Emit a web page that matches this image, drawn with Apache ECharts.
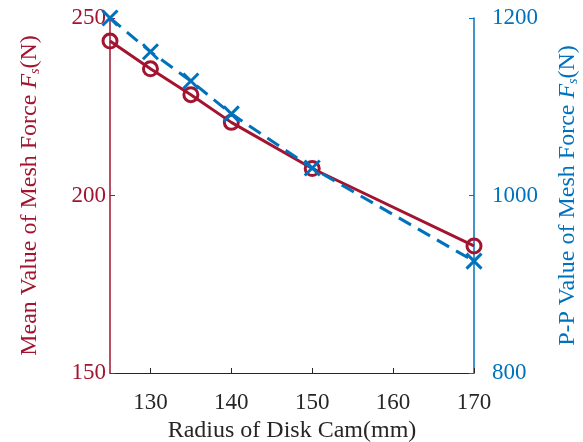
<!DOCTYPE html>
<html><head><meta charset="utf-8">
<script src="https://cdn.jsdelivr.net/npm/echarts@6/dist/echarts.min.js"></script>
<style>html,body{margin:0;padding:0;background:#fff}#c{width:583px;height:442px}</style>
</head><body><div id="c"></div>
<script>
var radius = [125, 130, 135, 140, 150, 170];
var meanForce = [243.5, 235.7, 228.4, 220.6, 207.6, 185.8];
var ppForce = [1200, 1162, 1129, 1092, 1031, 926];
var xTicks = [130, 140, 150, 160, 170];

var RED = '#A2142F', BLUE = '#0072BD', GRAY = '#262626';
var FONT = '"Liberation Serif", "Times New Roman", serif';
var FS = 23, NFS = 24;

function pairs(xs, ys){ return xs.map(function(x,i){return [x, ys[i]];}); }
function plain(v){ return String(v); }

var chart = echarts.init(document.getElementById('c'), null, {renderer:'canvas'});
chart.setOption({
  animation: false,
  backgroundColor: '#fff',
  grid: {left: 110, right: 109, top: 18, bottom: 69, containLabel: false, outerBoundsMode: 'none'},
  xAxis: {
    type: 'value', min: 125, max: 170,
    name: 'Radius of Disk Cam(mm)', nameLocation: 'middle', nameGap: 43,
    nameTextStyle: {color: GRAY, fontFamily: FONT, fontSize: NFS},
    axisLine: {show: true, lineStyle: {color: GRAY, width: 1}},
    axisTick: {show: true, inside: true, length: 5, customValues: xTicks, lineStyle: {color: GRAY}},
    axisLabel: {customValues: xTicks, color: GRAY, fontFamily: FONT, fontSize: FS, margin: 18, formatter: plain},
    splitLine: {show: false}
  },
  yAxis: [{
    type: 'value', min: 150, max: 250, interval: 50, position: 'left',
    name: 'Mean Value of Mesh Force {i|F}{s|s}(N)', nameLocation: 'middle', nameGap: 68,
    nameRotate: 90,
    nameTextStyle: {color: RED, fontFamily: FONT, fontSize: NFS,
      rich: {i: {fontStyle: 'italic', color: RED, fontFamily: FONT, fontSize: NFS},
             s: {fontStyle: 'italic', color: RED, fontFamily: FONT, fontSize: 14, verticalAlign: 'bottom', padding: [10,0,0,0]}}},
    axisLine: {show: true, lineStyle: {color: RED, width: 1.5}},
    axisTick: {show: true, inside: true, length: 5, lineStyle: {color: RED}},
    axisLabel: {color: RED, fontFamily: FONT, fontSize: FS, margin: 4, formatter: plain},
    splitLine: {show: false}
  }, {
    type: 'value', min: 800, max: 1200, interval: 200, position: 'right',
    name: 'P-P Value of Mesh Force {i|F}{s|s}(N)', nameLocation: 'middle', nameGap: 82,
    nameRotate: 90,
    nameTextStyle: {color: BLUE, fontFamily: FONT, fontSize: NFS,
      rich: {i: {fontStyle: 'italic', color: BLUE, fontFamily: FONT, fontSize: NFS},
             s: {fontStyle: 'italic', color: BLUE, fontFamily: FONT, fontSize: 14, verticalAlign: 'bottom', padding: [10,0,0,0]}}},
    axisLine: {show: true, lineStyle: {color: BLUE, width: 1.5}},
    axisTick: {show: true, inside: true, length: 5, lineStyle: {color: BLUE}},
    axisLabel: {color: BLUE, fontFamily: FONT, fontSize: FS, margin: 18, formatter: plain},
    splitLine: {show: false}
  }],
  series: [{
    type: 'line', yAxisIndex: 0, data: pairs(radius, meanForce),
    symbol: 'circle', symbolSize: 14,
    lineStyle: {color: RED, width: 3},
    itemStyle: {color: 'rgba(0,0,0,0)', borderColor: RED, borderWidth: 3},
    z: 2
  }, {
    type: 'line', yAxisIndex: 1, data: pairs(radius, ppForce),
    symbol: 'path://M0,0L10,10M10,0L0,10', symbolSize: 15,
    lineStyle: {color: BLUE, width: 3, type: [14, 8]},
    itemStyle: {color: 'rgba(0,0,0,0)', borderColor: BLUE, borderWidth: 3},
    z: 3
  }]
});
</script></body></html>
